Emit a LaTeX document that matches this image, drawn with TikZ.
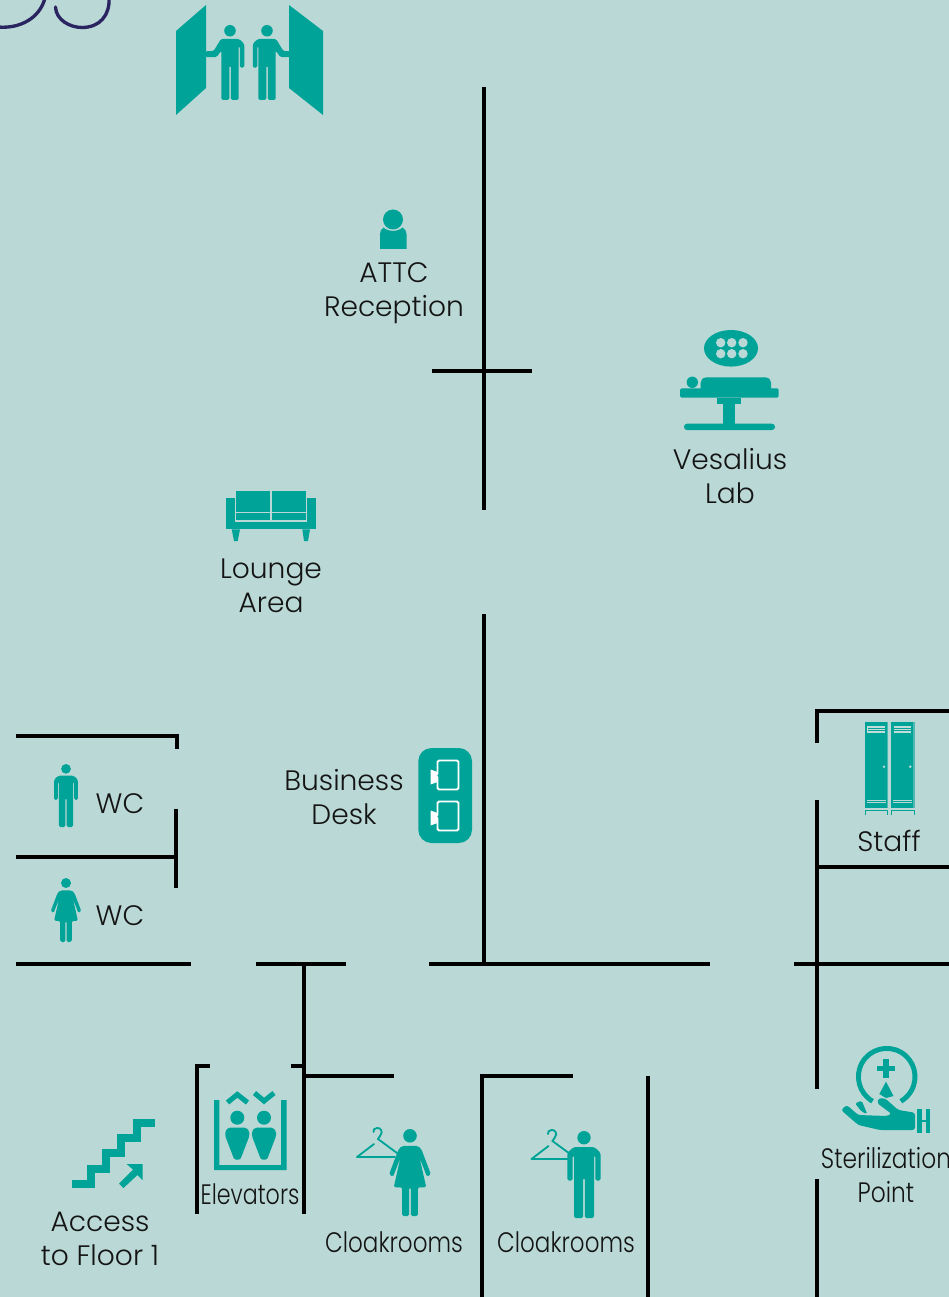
\documentclass[tikz,border=0pt]{standalone}
\usepackage{fontspec}
\setmainfont{Poppins}[UprightFont=* Light]
\definecolor{floorbg}{HTML}{BAD9D6}
\definecolor{iconteal}{HTML}{00A398}
\definecolor{arcnavy}{HTML}{2A2560}
\definecolor{labelink}{HTML}{141414}
\newcommand{\narrowtxt}[2][0.83]{\scalebox{#1}[1]{#2}}
\tikzset{
  wall/.style={line width=1.75pt, black},
  roomlabel/.style={text=labelink, align=center, font=\fontsize{16}{19.4}\selectfont, inner sep=0pt},
  iconfill/.style={fill=iconteal, draw=none},
  softcorner/.style={rounded corners=0.9pt},
  man/.pic={
    \fill[iconfill] (0,7.7) circle (7.7);
    \fill[iconfill, softcorner] (-12,18.5) -- (12,18.5) -- (19,25) -- (19,57) -- (13,57) -- (13,28) -- (11.5,28) -- (11.5,100) -- (1,100) -- (1,54) -- (-1,54) -- (-1,100) -- (-11.5,100) -- (-11.5,28) -- (-13,28) -- (-13,57) -- (-19,57) -- (-19,25) -- cycle;
  },
  woman/.pic={
    \fill[iconfill] (0,7.8) circle (7.8);
    \fill[iconfill, softcorner] (-9,19.5) -- (9,19.5) -- (13,23) -- (24,52) -- (19.5,55) -- (11,33) -- (18.7,67) -- (9,67) -- (9,100) -- (1,100) -- (1,67) -- (-1,67) -- (-1,100) -- (-9,100) -- (-9,67) -- (-18.7,67) -- (-11,33) -- (-19.5,55) -- (-24,52) -- (-13,23) -- cycle;
  },
  doorman/.pic={
    \fill[iconfill] (0,7.7) circle (7.7);
    \fill[iconfill, softcorner] (-12,18.5) -- (12,18.5) -- (19,25) -- (19,57) -- (13,57) -- (13,28) -- (11.5,28) -- (11.5,100) -- (1,100) -- (1,54) -- (-1,54) -- (-1,100) -- (-11.5,100) -- (-11.5,34) -- (-18,43) -- (-33,43) -- (-33,35) -- (-22,35) -- cycle;
  },
  hanger/.pic={
    \draw[iconteal, line width=1.05pt, line join=round, line cap=round] (-3,16) -- (-20,29) -- (18,29);
    \draw[iconteal, line width=1.05pt, line cap=round] (20,25) -- (1,11) -- (3,8) .. controls (7,3) and (3,-0.5) .. (0,0) .. controls (-2.5,0) and (-4,2) .. (-3.5,4);
  },
  liftperson/.pic={
    \fill[iconfill] (0,0) circle (7);
    \fill[iconfill, softcorner] (-9,10) -- (9,10) -- (12,13.5) -- (12,18.5) -- (3,42) -- (-3,42) -- (-12,18.5) -- (-12,13.5) -- cycle;
  },
  deskscreen/.pic={
    \draw[white, line width=1.1pt, rounded corners=0.8pt] (0,0) rectangle (21,29);
    \fill[white] (-7,9) -- (0,11.5) -- (0,21.5) -- (-7,24) -- cycle;
    \fill[iconteal] (1.3,15) circle (1.5);
  },
  lockerdoor/.pic={
    \fill[iconfill] (0,0) rectangle (23.3,86);
    \fill[floorbg!40!iconteal] (21.6,0) rectangle (23.3,86);
    \fill[floorbg!90!white] (2.3,3.7) rectangle (20,10.4);
    \draw[iconteal, line width=0.4pt] (3,6) -- (19.5,6) (3,8.2) -- (19.5,8.2);
    \fill[floorbg] (19,44.4) circle (1.4);
    \draw[floorbg, line width=0.3pt] (2,78.4) -- (21,78.4) (2,80.4) -- (21,80.4);
    \draw[iconteal, line width=0.5pt] (0.5,93) -- (0.5,88) -- (22.8,88) -- (22.8,93);
  }
}
\begin{document}
\begin{tikzpicture}[x=0.02cm, y=-0.02cm]
    \useasboundingbox (0,0) rectangle (949,1297);
    \clip (0,0) rectangle (949,1297);
    \fill[floorbg] (0,0) rectangle (949,1297);

    % the logo arcs in the corner
    \draw[arcnavy, line width=1.9pt] (-2,27) .. controls (20,29) and (40,18) .. (45,-2);
    \draw[arcnavy, line width=1.9pt, line cap=round] (55.5,7) .. controls (56,20) and (70,27.5) .. (82,27.5) .. controls (100,27.5) and (110,15) .. (109,-2);

    % the walls
    \draw[wall] (484,87) -- (484,510);
    \draw[wall] (432,371) -- (532,371);
    \draw[wall] (484,614) -- (484,964);
    \draw[wall] (16,964) -- (191,964);
    \draw[wall] (256,964) -- (346,964);
    \draw[wall] (429,964) -- (710,964);
    \draw[wall] (794,964) -- (949,964);
    \draw[wall] (16,736) -- (177,736) -- (177,749);
    \draw[wall] (176,809) -- (176,888);
    \draw[wall] (16,857) -- (176,857);
    \draw[wall] (304,964) -- (304,1214);
    \draw[wall] (291,1066) -- (304,1066);
    \draw[wall] (210,1066) -- (197,1066) -- (197,1214);
    \draw[wall] (304,1076) -- (394,1076);
    \draw[wall] (482,1297) -- (482,1076) -- (573,1076);
    \draw[wall] (648,1076) -- (648,1297);
    \draw[wall] (949,711) -- (817,711) -- (817,743);
    \draw[wall] (817,800) -- (817,1089);
    \draw[wall] (817,867) -- (949,867);
    \draw[wall] (817,1179) -- (817,1297);

    % the entrance with the two doors
    \fill[iconfill] (176,31) -- (206,5) -- (206,88) -- (176,115) -- cycle;
    \fill[iconfill] (289,5) -- (323,31) -- (323,115) -- (289,88) -- cycle;
    \pic[scale=0.75] at (230,25) {doorman};
    \pic[xscale=-0.75, yscale=0.75] at (267,25) {doorman};

    % the reception
    \fill[iconfill] (393,219.5) circle (10);
    \fill[iconfill] (380,249) -- (406.5,249) -- (406.5,234) .. controls (406.5,231) and (405,229) .. (402.5,227.5) .. controls (398,232) and (388,232) .. (383.5,227.5) .. controls (381.5,229) and (380,231) .. (380,234) -- cycle;
    \node[roomlabel] (attc) at (394,293.5) {ATTC\\Reception};

    % the lab with its table and lamp
    \fill[iconfill] (731,348.3) ellipse (27 and 18.3);
    \foreach \dotx in {720.7,731.7,743}
      \foreach \doty in {342.7,353.7}
        \fill[floorbg] (\dotx,\doty) circle (4.7);
    \fill[iconfill] (692.3,382.3) circle (5.7);
    \fill[iconfill, rounded corners=3pt] (700.7,396) -- (700.7,377.3) -- (771,377.3) -- (771,396) -- cycle;
    \fill[iconfill, softcorner] (680,388.3) rectangle (778.7,397.7);
    \fill[iconfill] (717.3,397.7) rectangle (740.7,404);
    \fill[iconfill] (723.3,404) rectangle (735,425);
    \fill[iconfill, rounded corners=1.7pt] (684,423.7) rectangle (775,430);
    \node[roomlabel] (vesalius) at (730,476) {Vesalius\\Lab};

    % the lounge sofa
    \fill[iconfill] (226,498.3) rectangle (235,529.3);
    \fill[iconfill] (307,498.3) rectangle (316,529.3);
    \fill[iconfill] (226,521.5) rectangle (316,529.3);
    \fill[iconfill] (236,491) rectangle (270.3,511.7);
    \fill[iconfill] (271.7,491) rectangle (305.7,511.7);
    \fill[iconfill] (236,513.3) rectangle (270.3,520);
    \fill[iconfill] (271.7,513.3) rectangle (305.7,520);
    \fill[iconfill] (231.7,529.3) -- (240,529.3) -- (237.7,541) -- (234,541) -- cycle;
    \fill[iconfill] (302.3,529.3) -- (310,529.3) -- (308,541) -- (304,541) -- cycle;
    \node[roomlabel] (lounge) at (271,585.5) {Lounge\\Area};

    % the business desk
    \fill[iconfill, rounded corners=7.5pt] (418.3,748) rectangle (472,843);
    \pic at (437.5,760.5) {deskscreen};
    \pic at (437.5,801.5) {deskscreen};
    \node[roomlabel] (desk) at (344,797) {Business\\Desk};

    % the toilets
    \pic[scale=0.63] at (66,764) {man};
    \pic[scale=0.64] at (66,878) {woman};
    \node[roomlabel] (wcmen) at (120,803.5) {WC};
    \node[roomlabel] (wcwomen) at (120,915.5) {WC};

    % the staff lockers
    \pic at (865,722.3) {lockerdoor};
    \pic at (891.3,722.3) {lockerdoor};
    \node[roomlabel] (staff) at (889,841) {Staff};

    % the stairs
    \draw[iconteal, line width=4.6pt, line join=miter] (72,1183.7) -- (91,1183.7) -- (91,1168.7) -- (105.7,1168.7) -- (105.7,1153) -- (121,1153) -- (121,1137.7) -- (136.7,1137.7) -- (136.7,1122.7) -- (155,1122.7);
    \fill[iconfill] (126.5,1164) -- (142.5,1164) -- (142.5,1180) -- (137.5,1175) -- (123.5,1188) -- (119,1183.5) -- (133,1169.5) -- cycle;
    \node[roomlabel] (stairs) at (100,1239) {Access\\to Floor 1};

    % the elevators
    \fill[iconfill] (214,1100) -- (219.3,1100) -- (219.3,1165) -- (281,1165) -- (281,1100) -- (286.7,1100) -- (286.7,1170) -- (214,1170) -- cycle;
    \draw[iconteal, line width=2.9pt] (227.5,1102.5) -- (237.3,1094.5) -- (247.5,1102.5);
    \draw[iconteal, line width=2.9pt] (254.5,1093) -- (264,1101) -- (274,1093);
    \pic at (237.3,1117.7) {liftperson};
    \pic at (264,1117.7) {liftperson};
    \node[roomlabel] (lifts) at (250,1194.5) {\narrowtxt[0.79]{Elevators}};

    % the cloakrooms
    \pic at (377,1128) {hanger};
    \pic[scale=0.87] at (410,1129) {woman};
    \node[roomlabel] (cloakw) at (394,1242.5) {\narrowtxt[0.82]{Cloakrooms}};
    \pic at (551.5,1130) {hanger};
    \pic[scale=0.87] at (584,1131) {man};
    \node[roomlabel] (cloakm) at (566,1242.5) {\narrowtxt[0.82]{Cloakrooms}};

    % the sterilization point
    \draw[iconteal, line width=2.8pt] (886.7,1076.7) ++(120:28.3) arc (120:420:28.3);
    \fill[iconfill] (883.2,1059.3) rectangle (888.8,1077.7);
    \fill[iconfill] (877,1065.7) rectangle (895,1071);
    \fill[iconfill] (886,1081.7) -- (893.5,1096) -- (886,1098) -- (879.3,1094) -- cycle;
    \fill[iconfill, rounded corners=1.5pt] (841,1110) -- (846.7,1105) -- (858.3,1115) -- (886.7,1116) -- (891.7,1114) -- (877.3,1103.3) -- (878.3,1098.3) -- (885,1098.3) -- (898.3,1110) -- (915,1112.7) -- (915,1130) -- (880,1130) -- (858.3,1125) -- cycle;
    \fill[iconfill, softcorner] (855,1103.3) -- (861.7,1100.7) -- (867.3,1114) -- (861.7,1111.7) -- cycle;
    \fill[iconfill] (917.3,1109) rectangle (921.7,1133.3);
    \fill[iconfill] (925.7,1109) rectangle (930,1133.3);
    \fill[iconfill] (921.7,1120) rectangle (925.7,1122);
    \node[roomlabel] (steril) at (886,1175) {\narrowtxt{Sterilization}\\\narrowtxt{Point}};
\end{tikzpicture}
\end{document}
